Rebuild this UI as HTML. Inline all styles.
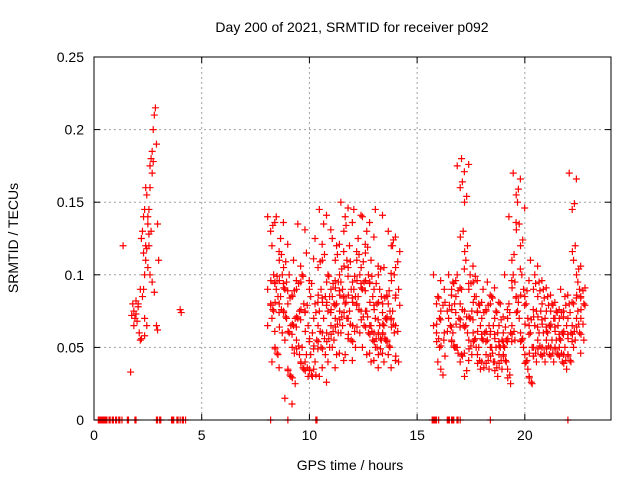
<!DOCTYPE html>
<html><head><meta charset="utf-8"><style>
body{margin:0;background:#fff}
svg{display:block;font-family:"Liberation Sans",sans-serif}
</style></head><body>
<svg id="chart" width="640" height="480" xmlns="http://www.w3.org/2000/svg">
<rect width="640" height="480" fill="#fff"/>
<text x="352" y="32" font-size="14" text-anchor="middle">Day 200 of 2021, SRMTID for receiver p092</text>
<text x="350" y="470" font-size="14" text-anchor="middle">GPS time / hours</text>
<text transform="translate(18,238) rotate(-90)" font-size="14" text-anchor="middle">SRMTID / TECUs</text>
<g id="grid"></g><g id="marks"></g><g id="axes"></g>
</svg>
<script>
const xTicks=[0,5,10,15,20];
const yTicks=[0,0.05,0.1,0.15,0.2,0.25];
const yTickLabels=["0","0.05","0.1","0.15","0.2","0.25"];
const zeroHours=[0.2,0.25,0.3,0.35,0.4,0.45,0.5,0.55,0.6,0.7,0.75,0.85,0.9,1.0,1.05,1.15,1.2,1.3,1.55,1.6,1.9,1.95,2.9,2.95,3.05,3.1,3.6,3.65,3.7,3.85,3.9,4.0,4.1,4.15,4.25,8.2,9.0,10.3,10.35,15.7,15.75,15.8,15.85,15.9,16.0,16.4,16.45,16.5,16.6,16.65,16.7,16.85,16.9,17.0,18.4,22.0];
const spikeHours=[1.35,1.7,1.75,1.8,1.85,1.9,1.95,2.0,2.05,2.1,2.15,2.2,2.25,2.3,2.35,2.4,2.2,2.25,2.3,2.35,2.4,2.45,2.5,2.55,2.6,2.65,2.7,2.75,2.8,2.85,2.9,2.95,3.0,2.6,2.7,2.5,2.8,2.9,2.95,2.45,2.35,4.0,4.05,2.55,2.65,2.4,1.85,1.95,2.05,2.15,2.3,2.5,2.6,2.7,2.75,2.45,2.55,2.35];
const spikeValues=[0.12,0.033,0.072,0.08,0.075,0.07,0.082,0.068,0.078,0.06,0.055,0.056,0.085,0.09,0.1,0.11,0.125,0.13,0.14,0.145,0.16,0.155,0.135,0.12,0.175,0.18,0.185,0.2,0.21,0.215,0.19,0.135,0.11,0.1,0.095,0.105,0.088,0.065,0.062,0.065,0.07,0.076,0.074,0.145,0.13,0.12,0.065,0.073,0.08,0.09,0.115,0.14,0.16,0.17,0.178,0.118,0.128,0.058];
const colHours=[8.2,8.4,8.6,8.8,9.0,9.2,9.4,9.6,9.8,10.0,10.2,10.4,10.6,10.8,11.0,11.2,11.4,11.6,11.8,12.0,12.2,12.4,12.6,12.8,13.0,13.2,13.4,13.6,13.8,14.0,
15.9,16.1,16.4,16.6,16.8,17.0,17.2,17.4,17.6,17.8,18.0,18.2,18.4,18.6,18.8,19.0,19.2,19.4,19.6,19.8,20.0,20.2,20.4,20.6,20.8,21.0,21.2,21.4,21.6,21.8,22.0,22.2,22.4,22.6];
const colValues=[
[.14,.13,.1,.09,.08,.075,.065],[.12,.095,.085,.07,.05,.045,.04],[.14,.11,.1,.09,.08,.06],[.125,.105,.095,.085,.075,.07],
[.09,.08,.065,.055,.035,.03,.015],[.1,.085,.07,.06,.05,.025],[.11,.09,.075,.065,.055,.045],[.135,.095,.08,.07,.04,.035],
[.1,.075,.065,.05,.04,.03],[.115,.09,.06,.045,.035,.03],[.085,.07,.055,.045,.035],[.125,.105,.09,.08,.065,.05,.04],
[.145,.11,.085,.075,.06,.045,.03],[.135,.095,.085,.07,.06,.05],[.1,.09,.08,.075,.065,.055,.04],[.125,.11,.095,.085,.07,.06,.05],
[.12,.1,.09,.08,.075,.065,.045],[.15,.13,.11,.095,.085,.07,.06],[.14,.105,.09,.08,.07,.055,.045],[.12,.095,.085,.075,.065,.05],
[.145,.11,.1,.09,.08,.06],[.125,.105,.095,.085,.075,.065],[.14,.115,.1,.09,.075,.06,.05],[.13,.095,.085,.075,.065,.055,.045],
[.11,.09,.08,.065,.06,.05,.04],[.145,.1,.085,.07,.06,.055,.05,.045],[.09,.08,.07,.065,.06,.055],[.105,.085,.075,.065,.055,.05,.04],
[.13,.12,.1,.08,.07,.06,.045],[.12,.105,.09,.075,.065,.04],
[.1,.08,.07,.065,.06,.05],[.085,.075,.055,.04,.035],[.09,.075,.065,.06],[.1,.09,.08,.07,.055,.05],[.095,.085,.07,.06,.05],
[.175,.16,.13,.1,.08,.065,.05,.04],[.18,.15,.12,.09,.075,.06,.045,.03],[.11,.09,.075,.065,.055,.045],[.1,.095,.085,.07,.06,.05],
[.085,.075,.065,.055,.045,.035],[.08,.07,.06,.05,.04],[.09,.075,.065,.055,.045,.035],[.095,.08,.065,.055,.05,.04],
[.085,.07,.06,.05,.04,.03],[.075,.065,.055,.05,.045,.035],[.08,.06,.055,.05,.045,.04],[.1,.07,.06,.05,.035,.025],
[.14,.11,.095,.08,.065,.055],[.17,.155,.135,.1,.085,.07],[.15,.12,.09,.075,.06,.05],[.1,.085,.07,.055,.045,.035],
[.08,.065,.05,.04,.03,.025],[.11,.09,.075,.06,.05,.04],[.1,.085,.075,.065,.055,.045],[.095,.08,.07,.06,.05,.04],
[.09,.075,.065,.06,.055,.045],[.085,.075,.07,.06,.05,.04],[.08,.07,.065,.055,.05,.045],[.075,.07,.06,.055,.05,.04],
[.09,.075,.065,.055,.045,.035],[.085,.07,.06,.05,.045,.04],[.17,.145,.12,.08,.065,.055],[.11,.1,.09,.08,.07,.06,.05],[.095,.085,.08,.075,.07,.055]];
const X0=94,X1=611,Y0=420,Y1=57;
const xs=h=>X0+h/24*(X1-X0);
const ys=v=>Y0-v/0.25*(Y0-Y1);
const NS="http://www.w3.org/2000/svg";
function mk(tag,attrs,parent){const e=document.createElementNS(NS,tag);for(const k in attrs)e.setAttribute(k,attrs[k]);parent.appendChild(e);return e;}
const grid=document.getElementById('grid'),marks=document.getElementById('marks'),axes=document.getElementById('axes');
xTicks.forEach((t,i)=>{const x=xs(t);
 if(i>0){const g=mk('line',{x1:x,x2:x,y1:Y1,y2:Y0,stroke:'#a0a0a0','stroke-dasharray':'2,3'},grid);
 
 }
 mk('line',{x1:x,x2:x,y1:Y0,y2:Y0-6,stroke:'#000'},axes);
 mk('line',{x1:x,x2:x,y1:Y1,y2:Y1+6,stroke:'#000'},axes);
 const l=mk('text',{x:x,y:Y0+20,'font-size':14,'text-anchor':'middle'},axes);l.textContent=t;
 
 });
yTicks.forEach((t,i)=>{const y=ys(t);
 if(i>0&&i<yTicks.length-1){const g=mk('line',{x1:X0,x2:X1,y1:y,y2:y,stroke:'#a0a0a0','stroke-dasharray':'2,3'},grid);
 
 }
 mk('line',{x1:X0,x2:X0+6,y1:y,y2:y,stroke:'#000'},axes);
 mk('line',{x1:X1,x2:X1-6,y1:y,y2:y,stroke:'#000'},axes);
 const l=mk('text',{x:X0-10,y:y+5,'font-size':14,'text-anchor':'end'},axes);l.textContent=yTickLabels[i];
 
 });
const frame=mk('rect',{x:X0,y:Y1,width:X1-X0,height:Y0-Y1,fill:'none',stroke:'#000'},axes);


let d='';
function plus(h,v,dx){const x=xs(h)+dx,y=ys(v);d+=`M${x-3.5},${y}h7M${x},${y-3.5}v7`;}
zeroHours.forEach(h=>plus(h,0,0));
spikeHours.forEach((h,i)=>plus(h,spikeValues[i],0));
colHours.forEach((h,c)=>colValues[c].forEach((v,i)=>{plus(h,v,((i%3)-1)*3);plus(h+0.1,v+((i%2)?0.004:-0.004),((i%3)-1)*-2);}));
const p=mk('path',{d:d,stroke:'#f00','stroke-width':1.2,fill:'none'},marks);


</script>
</body></html>
